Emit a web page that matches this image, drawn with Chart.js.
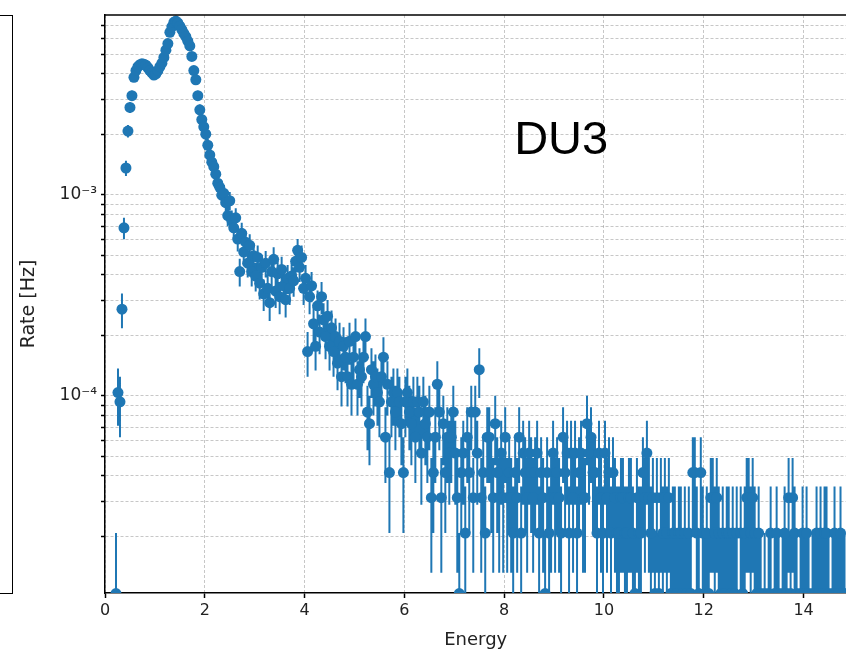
<!DOCTYPE html>
<html>
<head>
<meta charset="utf-8">
<script src="https://cdn.jsdelivr.net/npm/chart.js@4.4.0/dist/chart.umd.min.js"></script>
<style>
  html, body { margin: 0; padding: 0; background: #fff; overflow: hidden; }
  #wrap { position: relative; width: 846px; height: 651px; overflow: hidden; }
  /* edge of the neighbouring panel, cut off on the left */
  #prev { position: absolute; left: -2px; top: 15px; width: 14px; height: 577px;
          border: 1.5px solid #000; border-left: none; }
  #chart0a { position: absolute; left: 0; top: 0; }
</style>
</head>
<body>
<div id="wrap">
  <div id="prev"></div>
  <canvas id="chart0a" width="852" height="651"></canvas>
</div>
<script>
// counts per 0.04 keV channel (channel centre = 0.02 + 0.04*i keV)
const channelWidth = 0.04;
const channelStart = 0.02;
const rateUnit = 1.04e-5; // Hz per count (1 / exposure)

const counts = [
    // 0 - 1 keV
    0, 0, 0, 0, 0, 1, 10, 9, 26, 66, 131, 200, 262, 300, 370, 400, 418, 428, 432, 430, 425, 413, 400, 390, 380,
    // 1 - 2 keV
    385, 400, 418, 435, 465, 505, 545, 620, 660, 695, 705, 690, 665, 640, 612, 590, 560, 530, 470, 400, 360, 300, 255, 228, 210,
    // 2 - 3 keV
    193, 170, 152, 140, 133, 122, 110, 105, 96, 98, 88, 76, 90, 72, 66, 74, 58, 40, 62, 50, 56, 44, 54, 40, 48,
    // 3 - 4 keV
    38, 47, 35, 42, 31, 44, 33, 28, 40, 46, 32, 39, 30, 41, 34, 29, 37, 33, 38, 36, 45, 51, 42, 47, 33,
    // 4 - 5 keV
    37, 16, 30, 34, 22, 17, 27, 20, 30, 23, 19, 24, 17, 21, 16, 19, 14, 18, 12, 17, 15, 12, 18, 11, 15,
    // 5 - 6 keV
    19, 11, 13, 12, 15, 19, 8, 7, 13, 11, 12, 10, 9, 12, 15, 6, 11, 4, 9, 10, 8, 10, 9, 7, 4,
    // 6 - 7 keV
    9, 10, 8, 7, 9, 6, 9, 8, 5, 9, 7, 6, 8, 3, 4, 6, 11, 8, 3, 7, 4, 6, 5, 6, 8,
    // 7 - 8 keV
    5, 3, 1, 4, 5, 2, 6, 4, 8, 3, 8, 5, 13, 3, 4, 2, 6, 6, 4, 3, 7, 4, 3, 5, 3,
    // 8 - 9 keV
    6, 3, 4, 3, 2, 4, 3, 6, 2, 5, 4, 3, 5, 4, 3, 4, 5, 2, 4, 3, 1, 4, 2, 3, 5,
    // 9 - 10 keV
    3, 4, 3, 2, 6, 4, 5, 2, 5, 3, 5, 2, 4, 5, 3, 3, 7, 5, 6, 4, 4, 2, 5, 3, 2,
    // 10 - 11 keV
    5, 3, 4, 2, 4, 3, 2, 2, 3, 3, 2, 2, 3, 3, 2, 1, 3, 2, 2, 4, 3, 5, 3, 2, 3,
    // 11 - 12 keV
    1, 3, 1, 3, 2, 3, 2, 3, 1, 2, 2, 1, 2, 2, 1, 2, 1, 2, 1, 4, 4, 2, 1, 4, 2,
    // 12 - 13 keV
    1, 2, 1, 3, 3, 2, 3, 2, 1, 2, 1, 2, 2, 1, 2, 1, 2, 0, 2, 1, 2, 3, 3, 2, 3,
    // 13 - 14 keV
    2, 1, 2, 1, 0, 1, 0, 1, 2, 0, 1, 2, 1, 0, 1, 2, 1, 3, 1, 3, 2, 1, 0, 1, 2,
    // 14 - 14.82 keV
    1, 2, 1, 0, 1, 1, 2, 1, 2, 1, 2, 2, 1, 0, 1, 2, 1, 1, 2, 1, 1
];

const xTicks = [0, 2, 4, 6, 8, 10, 12, 14];
const yDecades = [-5, -4, -3];
const yMajorLabels = { '-4': '10\u207B\u2074', '-3': '10\u207B\u00B3' };
const labelText = 'DU3';

const xMin = 0, xMax = 14.86;
const yMin = 1.047e-5, yMax = 7.86e-3;

// points + poisson errors
const points = [];
counts.forEach((c, i) => {
    if (c <= 0) return; // empty channels don't show on a log axis
    points.push({
        x: +(channelStart + i * channelWidth).toFixed(2),
        y: c * rateUnit,
        err: Math.sqrt(c) * rateUnit
    });
});

// y ticks 1..9 x 10^n inside the range, label only the decades
const yTicks = [];
yDecades.forEach(e => {
    for (let k = 1; k <= 9; k++) {
        const v = k * Math.pow(10, e);
        if (v >= yMin && v <= yMax) yTicks.push({ value: v, label: k === 1 ? yMajorLabels[String(e)] || '' : '' });
    }
});

const blue = '#1f77b4';

const errorBars = {
    id: 'errorBars',
    beforeDatasetsDraw(chart) {
        const { ctx, chartArea: a, scales: { x, y } } = chart;
        ctx.save();
        ctx.beginPath();
        ctx.rect(a.left, a.top, a.right - a.left, a.bottom - a.top);
        ctx.clip();
        ctx.strokeStyle = blue;
        ctx.lineWidth = 2;
        ctx.beginPath();
        points.forEach(p => {
            const px = x.getPixelForValue(p.x);
            const lo = p.y - p.err;
            const yTop = y.getPixelForValue(p.y + p.err);
            const yBot = lo > 0 ? y.getPixelForValue(lo) : a.bottom + 5;
            ctx.moveTo(px, yTop);
            ctx.lineTo(px, yBot);
        });
        ctx.stroke();
        ctx.restore();
    }
};

const frameAndText = {
    id: 'frameAndText',
    afterDraw(chart) {
        const { ctx, chartArea: a, scales: { x, y } } = chart;
        ctx.save();
        // top spine
        ctx.strokeStyle = '#000';
        ctx.lineWidth = 1.5;
        ctx.beginPath();
        ctx.moveTo(a.left, a.top);
        ctx.lineTo(a.right, a.top);
        ctx.stroke();
        // detector label
        ctx.fillStyle = '#000';
        ctx.font = '47px "Liberation Sans", Arial, sans-serif';
        ctx.textBaseline = 'alphabetic';
        ctx.fillText(labelText, x.getPixelForValue(8.2), y.getPixelForValue(1.6e-3));
        ctx.restore();
    }
};

const ctx = document.getElementById('chart0a').getContext('2d');

new Chart(ctx, {
    type: 'scatter',
    data: {
        datasets: [{
            label: 'Rate',
            data: points,
            backgroundColor: blue,
            borderWidth: 0,
            pointRadius: 5.5,
            pointHoverRadius: 5.5,
            clip: 0
        }]
    },
    options: {
        responsive: false,
        animation: false,
        layout: { padding: { top: 15, right: 0, left: 0, bottom: 0 } },
        plugins: {
            legend: { display: false },
            title: { display: false },
            tooltip: { enabled: false }
        },
        scales: {
            x: {
                type: 'linear',
                min: xMin,
                max: xMax,
                afterBuildTicks: (scale) => { scale.ticks = xTicks.map(v => ({ value: v })); },
                afterFit: (scale) => { scale.height = 58; },
                ticks: {
                    color: '#222',
                    font: { family: 'DejaVu Sans', size: 16 },
                    padding: 3,
                    maxRotation: 0,
                    autoSkip: false
                },
                grid: {
                    color: 'rgba(0,0,0,0.22)',
                    lineWidth: 1,
                    tickColor: '#000',
                    tickLength: 5,
                    tickWidth: 1.5
                },
                border: { color: '#000', width: 1.5, dash: [3, 2] },
                title: {
                    display: true,
                    text: 'Energy',
                    color: '#222',
                    font: { family: 'DejaVu Sans', size: 18 },
                    padding: { top: 0, bottom: 0 }
                }
            },
            y: {
                type: 'logarithmic',
                min: yMin,
                max: yMax,
                afterBuildTicks: (scale) => { scale.ticks = yTicks.map(t => ({ value: t.value })); },
                afterFit: (scale) => { scale.width = 105; },
                ticks: {
                    color: '#222',
                    font: { family: 'DejaVu Sans', size: 17 },
                    padding: 4,
                    autoSkip: false,
                    callback: (value, index) => yTicks[index] ? yTicks[index].label : ''
                },
                grid: {
                    color: 'rgba(0,0,0,0.22)',
                    lineWidth: 1,
                    tickColor: '#000',
                    tickLength: 4,
                    tickWidth: 1.5
                },
                border: { color: '#000', width: 1.5, dash: [3, 2] },
                title: {
                    display: true,
                    text: 'Rate [Hz]',
                    color: '#222',
                    font: { family: 'DejaVu Sans', size: 19 },
                    padding: { top: 18, bottom: 0 }
                }
            }
        }
    },
    plugins: [errorBars, frameAndText]
});
</script>
</body>
</html>
